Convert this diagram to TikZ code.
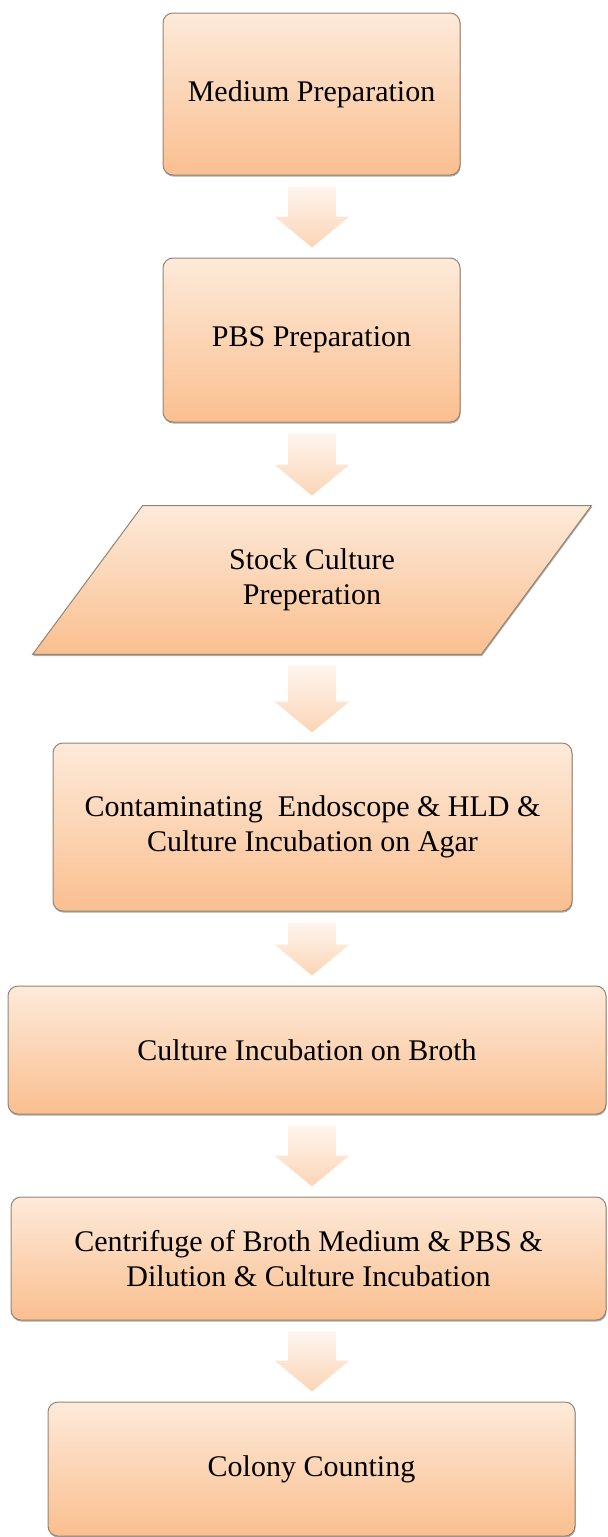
\documentclass[tikz,border=0pt]{standalone}
\usepackage{fontspec}
\setmainfont{Liberation Serif}
\usetikzlibrary{calc, shadows, backgrounds}
\definecolor{peachtop}{RGB}{253,234,218}
\definecolor{peachbot}{RGB}{250,191,143}
\definecolor{arrowtop}{RGB}{254,245,238}
\definecolor{arrowbot}{RGB}{251,213,182}
\definecolor{boxedge}{RGB}{150,132,115}

\newcommand{\flowarrow}[2]{%
  \shade[arrowshade]
    ($(axis |- #1.south)+(-24,11)$) -- ($(axis |- #1.south)+(24,11)$) --
    ($(axis |- #2.north)+(24,-41)$) -- ($(axis |- #2.north)+(37.5,-41)$) --
    ($(axis |- #2.north)+(0,-10)$) -- ($(axis |- #2.north)+(-37.5,-41)$) --
    ($(axis |- #2.north)+(-24,-41)$) -- cycle;}

\begin{document}
\begin{tikzpicture}[x=0.5pt, y=-0.5pt,
  every node/.style={font=\fontsize{15}{17.5}\selectfont, align=center},
  boxshadow/.style={drop shadow={shadow xshift=0.3pt, shadow yshift=-0.8pt,
                    fill=black!60, opacity=0.55}},
  stepbox/.style={draw=boxedge, line width=0.5pt, top color=peachtop,
                  bottom color=peachbot, rounded corners=5pt, inner sep=0pt, boxshadow},
  arrowshade/.style={top color=arrowtop, bottom color=arrowbot, draw=none}
]
\useasboundingbox (0,0) rectangle (607,1537);
\coordinate (axis) at (312,0);
\node[stepbox, minimum width=148.5pt, minimum height=81pt] (medium) at (311.5,94)
  {Medium Preparation};
\node[stepbox, minimum width=148.5pt, minimum height=82pt] (pbs) at (311.5,340)
  {PBS Preparation};
\node[minimum width=279pt, minimum height=74pt, inner sep=0pt] (stock) at (312,580)
  {Stock Culture\\Preperation};
\begin{scope}[on background layer]
\shade[top color=peachtop, bottom color=peachbot, draw=boxedge, line width=0.5pt, boxshadow]
  ($(stock.north west)+(110,0)$) -- (stock.north east) --
  ($(stock.south east)+(-110,0)$) -- (stock.south west) -- cycle;
\end{scope}
\node[stepbox, minimum width=259.5pt, minimum height=84pt] (contam) at (312.5,827)
  {Contaminating\ \ Endoscope \& HLD \&\\Culture Incubation on Agar};
\node[stepbox, minimum width=299pt, minimum height=64pt] (broth) at (307,1050)
  {Culture Incubation on Broth};
\node[stepbox, minimum width=297.5pt, minimum height=61.5pt] (centri) at (308.5,1258.5)
  {Centrifuge of Broth Medium \& PBS \&\\Dilution \& Culture Incubation};
\node[stepbox, minimum width=263.5pt, minimum height=67pt] (colony) at (311.5,1469)
  {Colony Counting};
\flowarrow{medium}{pbs}
\flowarrow{pbs}{stock}
\flowarrow{stock}{contam}
\flowarrow{contam}{broth}
\flowarrow{broth}{centri}
\flowarrow{centri}{colony}
\end{tikzpicture}
\end{document}
